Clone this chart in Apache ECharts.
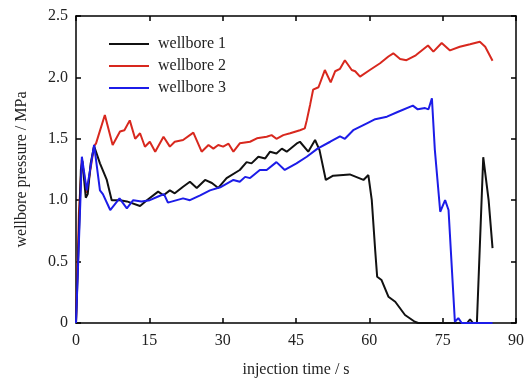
<!DOCTYPE html>
<html>
<head>
<meta charset="utf-8">
<script src="https://cdn.jsdelivr.net/npm/echarts@6/dist/echarts.min.js"></script>
<style>
  html, body { margin: 0; padding: 0; background: #fff; }
  #chart { width: 527px; height: 383px; }
</style>
</head>
<body>
<div id="chart"></div>
<script>
// [time (s), pressure (MPa)]
const wellbore1 = [
  [0, 0], [0.5, 0.6], [1.0, 1.25], [1.3, 1.32], [2.0, 1.02], [2.4, 1.05], [3.0, 1.3],
  [3.7, 1.44], [4.9, 1.3], [6.3, 1.165], [7.3, 1.0], [8.0, 1.0], [9.0, 1.0], [10.4, 0.99],
  [13.1, 0.953], [14.5, 1.0], [16.8, 1.07], [17.9, 1.04], [19.2, 1.08], [20.2, 1.056],
  [21.9, 1.11], [23.3, 1.15], [24.7, 1.1], [26.4, 1.165], [27.8, 1.14], [29.1, 1.1],
  [30.8, 1.18], [33.5, 1.246], [34.9, 1.31], [35.9, 1.3], [37.3, 1.354], [38.7, 1.34],
  [39.7, 1.395], [41.0, 1.38], [42.1, 1.42], [43.1, 1.395], [45.1, 1.46], [45.8, 1.476],
  [47.5, 1.395], [48.9, 1.49], [49.8, 1.41], [51.1, 1.165], [52.6, 1.2], [56.0, 1.21],
  [58.8, 1.165], [59.8, 1.205], [60.5, 1.0], [61.2, 0.59], [61.6, 0.377], [62.5, 0.35],
  [63.9, 0.214], [65.3, 0.173], [67.3, 0.065], [69.3, 0.01], [70.0, 0], [80.0, 0],
  [80.6, 0.03], [81.2, 0], [82.0, 0], [83.3, 1.35], [84.4, 1.0], [85.2, 0.61]
];

const wellbore2 = [
  [0, 0], [0.6, 0.9], [1.2, 1.33], [2.2, 1.06], [3.7, 1.44], [4.1, 1.463], [5.9, 1.694],
  [7.5, 1.45], [9.0, 1.56], [9.9, 1.57], [11.0, 1.65], [12.1, 1.5], [13.1, 1.545],
  [14.1, 1.435], [15.1, 1.476], [16.2, 1.395], [17.9, 1.517], [19.2, 1.436], [20.2, 1.476],
  [21.9, 1.49], [24.0, 1.55], [25.7, 1.395], [27.1, 1.45], [28.1, 1.42], [29.1, 1.45],
  [30.1, 1.436], [31.2, 1.46], [32.2, 1.395], [33.5, 1.463], [35.6, 1.476], [37.0, 1.504],
  [39.0, 1.517], [40.0, 1.53], [41.0, 1.5], [42.4, 1.53], [43.8, 1.545], [45.8, 1.57],
  [46.8, 1.585], [47.2, 1.65], [47.9, 1.78], [48.5, 1.9], [49.6, 1.92], [50.9, 2.06],
  [52.1, 1.96], [53.0, 2.05], [54.0, 2.07], [55.0, 2.14], [56.4, 2.06], [57.1, 2.05],
  [58.1, 2.006], [60.1, 2.06], [62.2, 2.115], [63.9, 2.17], [64.9, 2.196], [66.3, 2.15],
  [67.6, 2.14], [69.5, 2.18], [72.0, 2.26], [73.1, 2.21], [74.8, 2.28], [76.5, 2.22],
  [78.5, 2.25], [80.6, 2.27], [82.6, 2.29], [83.7, 2.25], [85.2, 2.136]
];

const wellbore3 = [
  [0, 0], [0.15, 0], [0.9, 1.0], [1.2, 1.354], [2.2, 1.08], [3.7, 1.45], [4.9, 1.08],
  [5.5, 1.05], [7.0, 0.92], [7.3, 0.912], [8.9, 1.015], [10.4, 0.934], [11.7, 1.0],
  [13.4, 0.99], [15.1, 1.0], [16.8, 1.03], [18.0, 1.05], [18.8, 0.98], [21.9, 1.015],
  [23.3, 1.0], [25.4, 1.04], [27.4, 1.08], [29.5, 1.105], [32.2, 1.165], [33.5, 1.15],
  [34.6, 1.19], [35.6, 1.18], [37.6, 1.246], [39.0, 1.246], [41.0, 1.31], [42.7, 1.246],
  [45.1, 1.3], [47.2, 1.354], [49.4, 1.42], [52.0, 1.476], [54.0, 1.52], [55.0, 1.5],
  [56.7, 1.57], [59.5, 1.626], [61.2, 1.66], [63.6, 1.68], [65.9, 1.72], [68.9, 1.77],
  [69.9, 1.74], [71.4, 1.75], [72.1, 1.74], [72.8, 1.83], [73.1, 1.816], [73.4, 1.41],
  [74.5, 0.906], [75.5, 1.0], [76.2, 0.92], [77.5, 0.01], [78.2, 0.04], [78.9, 0],
  [85.2, 0]
];

const seriesNames = ['wellbore 1', 'wellbore 2', 'wellbore 3'];
const seriesColors = ['#111111', '#d8281e', '#1c1ce8'];
const xTicks = { min: 0, max: 90, interval: 15 };
const yTicks = { min: 0, max: 2.5, interval: 0.5 };

const font = 'Liberation Serif';
const chart = echarts.init(document.getElementById('chart'));

const axisLine = { show: true, onZero: false, lineStyle: { color: '#000', width: 1.5 } };
const axisTick = { show: true, inside: true, length: 5, lineStyle: { color: '#000', width: 1.5 } };
const labelStyle = { fontFamily: font, fontSize: 16, color: '#222' };

chart.setOption({
  animation: false,
  grid: { left: 76, right: 10, top: 16, bottom: 60 },
  legend: {
    orient: 'vertical',
    left: 104,
    top: 31,
    itemWidth: 40,
    itemHeight: 14,
    itemGap: 6,
    icon: 'path://M0,0 L40,0 L40,2.2 L0,2.2 Z',
    textStyle: { fontFamily: font, fontSize: 16, color: '#222', padding: [0, 0, 0, 4] },
    data: seriesNames
  },
  xAxis: [
    {
      type: 'value', ...xTicks,
      name: 'injection time / s', nameLocation: 'middle', nameGap: 39,
      nameTextStyle: labelStyle,
      axisLine, axisTick, splitLine: { show: false },
      axisLabel: { ...labelStyle, margin: 10 }
    },
    {
      type: 'value', position: 'top', ...xTicks,
      axisLine, axisTick, splitLine: { show: false }, axisLabel: { show: false }
    }
  ],
  yAxis: [
    {
      type: 'value', ...yTicks,
      name: 'wellbore pressure / MPa', nameLocation: 'middle', nameGap: 46,
      nameTextStyle: labelStyle,
      axisLine, axisTick, splitLine: { show: false },
      axisLabel: {
        ...labelStyle, margin: 8,
        formatter: (v) => (v === 0 ? '0' : v.toFixed(1))
      }
    },
    {
      type: 'value', position: 'right', ...yTicks,
      axisLine, axisTick, splitLine: { show: false }, axisLabel: { show: false }
    }
  ],
  series: [wellbore1, wellbore2, wellbore3].map((d, i) => ({
    name: seriesNames[i],
    type: 'line',
    data: d,
    showSymbol: false,
    color: seriesColors[i],
    lineStyle: { width: 2, color: seriesColors[i] },
    z: i === 1 ? 2 : (i === 2 ? 4 : 3)
  }))
});
</script>
</body>
</html>
